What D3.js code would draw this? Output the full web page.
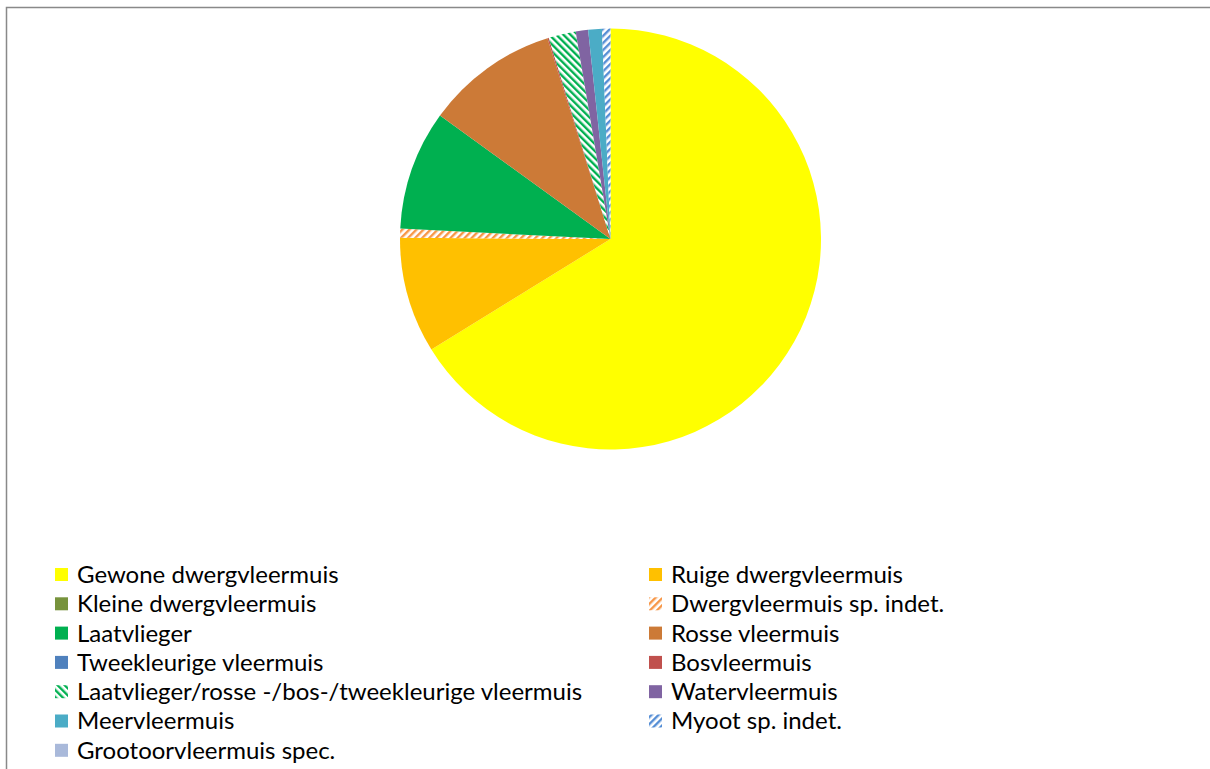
<!DOCTYPE html>
<html><head><meta charset="utf-8">
<script src="https://cdn.jsdelivr.net/npm/d3@7"></script>
<style>body{margin:0;background:#fff} svg{display:block}</style>
</head><body>
<svg id="c" width="1210" height="769"></svg>
<script>
const categories = [
  "Gewone dwergvleermuis", "Ruige dwergvleermuis", "Kleine dwergvleermuis",
  "Dwergvleermuis sp. indet.", "Laatvlieger", "Rosse vleermuis",
  "Tweekleurige vleermuis", "Bosvleermuis",
  "Laatvlieger/rosse -/bos-/tweekleurige vleermuis", "Watervleermuis",
  "Meervleermuis", "Myoot sp. indet.", "Grootoorvleermuis spec."
];
const values = [66.3, 8.9, 0, 0.7, 9.2, 10.2, 0, 0.1, 2.1, 0.95, 1.05, 0.65, 0];
const colors = ["#FFFF00", "#FFC000", "#77933C", "#F79646", "#00B050", "#CC7A37",
  "#4F81BD", "#C0504D", "#00B050", "#8064A2", "#4BACC6", "#558ED5", "#A9B9DA"];
const hatch = [null, null, null, "up", null, null, null, null, "down", null, null, "up", null];

const svg = d3.select("#c");
const W = 1210, H = 769;
svg.append("rect").attr("width", W).attr("height", H).attr("fill", "#fff");
svg.append("rect").attr("x", 6.5).attr("y", 7.5).attr("width", W + 10).attr("height", H + 10)
  .attr("fill", "none").attr("stroke", "#898989").attr("stroke-width", 1.5);

const defs = svg.append("defs");
hatch.forEach((h, i) => {
  if (!h) return;
  const p = defs.append("pattern").attr("id", "pat" + i)
    .attr("patternUnits", "userSpaceOnUse").attr("width", 5).attr("height", 5)
    .attr("patternTransform", `rotate(${h === "up" ? 45 : -45})`);
  p.append("rect").attr("width", 5).attr("height", 5).attr("fill", "#fff");
  p.append("rect").attr("x", 0).attr("width", 2.4).attr("height", 5).attr("fill", colors[i]);
});
const fillOf = i => hatch[i] ? `url(#pat${i})` : colors[i];

const cx = 610.5, cy = 239, r = 210.5;
const pie = d3.pie().sort(null).value(d => d.v).startAngle(0).endAngle(2 * Math.PI);
const data = categories.map((c, i) => ({ c, v: values[i], i }));
const arc = d3.arc().innerRadius(0).outerRadius(r);
svg.append("g").attr("transform", `translate(${cx},${cy})`)
  .selectAll("path").data(pie(data).filter(d => d.data.v > 0)).join("path")
  .attr("d", arc).attr("fill", d => fillOf(d.data.i));

// legend
const colX = [55, 649], rowY0 = 574.5, rowH = 29.3, box = 13;
const lg = svg.append("g").attr("font-family", "Lato, 'Open Sans', sans-serif")
  .attr("font-size", 24).attr("fill", "#000");
categories.forEach((c, i) => {
  const x = colX[i % 2], y = rowY0 + Math.floor(i / 2) * rowH;
  lg.append("rect").attr("x", x).attr("y", y - box / 2).attr("width", box).attr("height", box)
    .attr("fill", fillOf(i));
  lg.append("text").attr("x", x + 22).attr("y", y).attr("dy", "0.35em").text(c);
});
</script>
</body></html>
